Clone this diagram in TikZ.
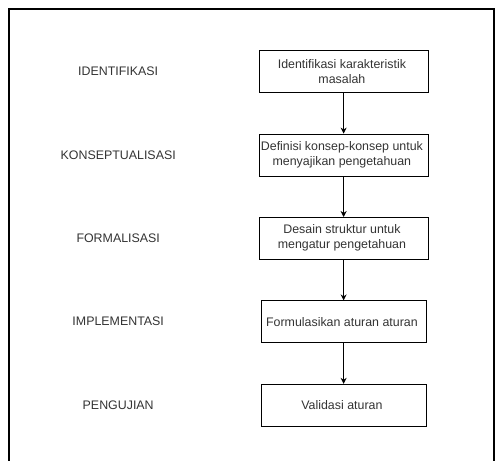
\documentclass[tikz,border=0pt]{standalone}
\usepackage{fontspec}
\setmainfont{Liberation Sans}
\usetikzlibrary{matrix,arrows.meta}
\definecolor{txtgray}{HTML}{333333}

\begin{document}
\begin{tikzpicture}[
x=1pt, y=-1pt,
plain/.style={
    draw=none,
    fill=none,
    minimum width=0pt,
    text width=140pt
},
net/.style={
    matrix of nodes,
    inner sep=0pt,
    nodes={
        draw,
        rectangle,
        anchor=center,
        align=center,
        text=txtgray,
        font=\fontsize{12.4}{15}\selectfont,
        minimum width=165pt,
        minimum height=42pt,
        inner sep=1pt
    },
    column sep=70pt,
    row sep=41pt
},
>={Stealth[length=6pt,width=6pt]}
]
\useasboundingbox (0,0) rectangle (496,461);
\draw[line width=1.2pt] (9,461) -- (9,9) -- (494,9) -- (494,461);

\matrix[net, anchor=north west] (mat) at (47,50)
{
    |[plain]| IDENTIFIKASI & \parbox{163pt}{\centering Identifikasi karakteristik\\masalah} \\
    |[plain]| KONSEPTUALISASI & \parbox{163pt}{\centering Definisi konsep-konsep untuk\\menyajikan pengetahuan} \\
    |[plain]| FORMALISASI & \parbox{163pt}{\centering Desain struktur untuk\\mengatur pengetahuan} \\
    |[plain]| IMPLEMENTASI & Formulasikan aturan aturan \\
    |[plain]| PENGUJIAN & Validasi aturan \\
};
\foreach \ai [count=\bi from 2] in {1,...,4}
\draw[->, line width=1pt] (mat-\ai-2) -- (mat-\bi-2);
\end{tikzpicture}
\end{document}
